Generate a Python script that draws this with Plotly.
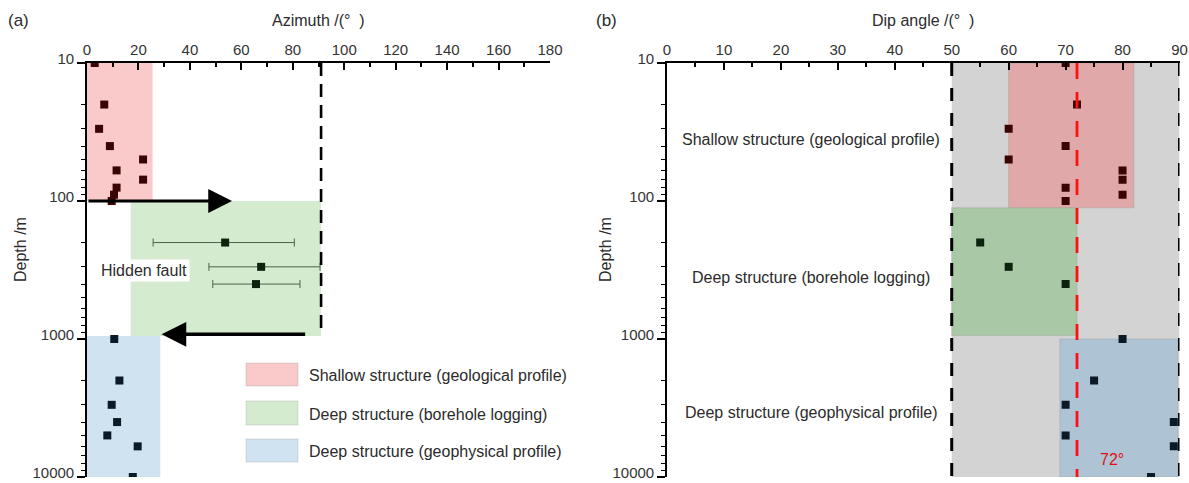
import numpy as np
import plotly.graph_objects as go

# ---------------- data ----------------
# (a) fault azimuth vs depth
shallow_depth = [10, 20, 30, 40, 50, 60, 70, 80, 90, 100]
shallow_azimuth = [3, 6.7, 4.7, 8.9, 21.8, 11.5, 21.8, 11.5, 10.5, 9.6]

borehole_depth = [200, 300, 400]
borehole_azimuth = [53.7, 67.7, 65.7]
borehole_err_minus = [28.0, 20.3, 16.8]
borehole_err_plus = [26.9, 22.9, 17.1]

geophys_depth = [1000, 2000, 3000, 4000, 5000, 6000, 10000]
geophys_azimuth = [10.6, 12.6, 9.6, 11.7, 7.9, 19.7, 17.8]

# (b) fault dip angle vs depth
shallow_dip = [70, 72, 60, 70, 60, 80, 80, 70, 80, 70]
borehole_dip = [55, 60, 70]
geophys_dip = [80, 75, 70, 89, 70, 89, 85]

mean_dip = 72
dip_limits = [50, 90]
azimuth_limit = 91

# value ranges covered by each data source: (x0, x1, depth0, depth1)
azimuth_blocks = {
    "shallow": (0, 25.5, 10, 100),
    "borehole": (17, 91, 100, 950),
    "geophys": (0, 28.5, 950, 10000),
}
dip_blocks = {
    "shallow": (60, 82, 10, 112),
    "borehole": (50, 72, 112, 945),
    "geophys": (69, 89.7, 1000, 10000),
}

legend_labels = [
    "Shallow structure (geological profile)",
    "Deep structure (borehole logging)",
    "Deep structure (geophysical profile)",
]

depth_ticks = [10, 100, 1000, 10000]
depth_minor = [m * 10 ** e for e in range(1, 4) for m in range(2, 10)]

# ---------------- styling ----------------
W, H = 1189, 483
FONT = "Liberation Sans, Arial, sans-serif"
TXT = "#2b2b2b"

fill_a = {"shallow": "#FAC9C9", "borehole": "#D4EBD0", "geophys": "#D0E3F1"}
fill_b = {"shallow": "#E0A8A8", "borehole": "#A9C8A5", "geophys": "#AEC3D4"}
mark_col = {"shallow": "#3A0404", "borehole": "#0E230E", "geophys": "#0A1A26"}

fig = go.Figure()


def pts(x, y, key, xa, ya, **kw):
    fig.add_trace(go.Scatter(
        x=x, y=y, mode="markers", xaxis=xa, yaxis=ya, showlegend=False, cliponaxis=True,
        marker=dict(symbol="square", size=8, color=mark_col[key], line=dict(width=0)),
        **kw))


pts(shallow_azimuth, shallow_depth, "shallow", "x", "y")
pts(borehole_azimuth, borehole_depth, "borehole", "x", "y",
    error_x=dict(type="data", symmetric=False, array=borehole_err_plus,
                 arrayminus=borehole_err_minus, color="#4a634a", thickness=1, width=4))
pts(geophys_azimuth, geophys_depth, "geophys", "x", "y")

pts(shallow_dip, shallow_depth, "shallow", "x2", "y2")
pts(borehole_dip, borehole_depth, "borehole", "x2", "y2")
pts(geophys_dip, geophys_depth, "geophys", "x2", "y2")

shapes = []
# grey band of observed dip angles
shapes.append(dict(type="rect", xref="x2", yref="y2", x0=dip_limits[0], x1=dip_limits[1],
                   y0=10, y1=10000, fillcolor="#D3D3D3", line=dict(width=0), layer="below"))
for key, (x0, x1, d0, d1) in azimuth_blocks.items():
    shapes.append(dict(type="rect", xref="x", yref="y", x0=x0, x1=x1, y0=d0, y1=d1,
                       fillcolor=fill_a[key], line=dict(width=0), layer="below"))
for key, (x0, x1, d0, d1) in dip_blocks.items():
    shapes.append(dict(type="rect", xref="x2", yref="y2", x0=x0, x1=x1, y0=d0, y1=d1,
                       fillcolor=fill_b[key], line=dict(width=1, color="rgba(150,150,150,0.35)"),
                       layer="below"))
# limit lines
shapes.append(dict(type="line", xref="x", yref="y", x0=azimuth_limit, x1=azimuth_limit,
                   y0=10, y1=950, line=dict(color="black", width=2.6, dash="13px,8px")))
for xv in dip_limits:
    shapes.append(dict(type="line", xref="x2", yref="y2", x0=xv, x1=xv, y0=10, y1=10000,
                       line=dict(color="black", width=3, dash="13px,12px")))
shapes.append(dict(type="line", xref="x2", yref="y2", x0=mean_dip, x1=mean_dip, y0=10, y1=10000,
                   line=dict(color="#FF1010", width=2.8, dash="16px,13px")))

# legend swatches
leg_rows = [(363, 386), (401, 425), (439, 462)]
for key, (t, b) in zip(["shallow", "borehole", "geophys"], leg_rows):
    shapes.append(dict(type="rect", xref="paper", yref="paper",
                       x0=246 / W, x1=298 / W, y0=1 - b / H, y1=1 - t / H,
                       fillcolor=fill_a[key], line=dict(width=1, color="rgba(160,160,160,0.35)")))

annotations = []


def label(text, x, y, xref="paper", yref="paper", size=16, color=TXT, xanchor="center", **kw):
    annotations.append(dict(xref=xref, yref=yref, x=x, y=y, text=text, showarrow=False,
                            xanchor=xanchor, yanchor="middle",
                            font=dict(size=size, color=color, family=FONT), **kw))


for text, (t, b) in zip(legend_labels, leg_rows):
    label(text, 307 / W, 1 - ((t + b) / 2 + 1) / H, xanchor="left")

# movement arrows across the hidden fault
annotations.append(dict(xref="x", yref="y", axref="x", ayref="y",
                        x=56.4, y=np.log10(100), ax=0, ay=np.log10(100), text="",
                        showarrow=True, arrowhead=2, arrowsize=1.7, arrowwidth=2.8,
                        arrowcolor="black", standoff=0))
annotations.append(dict(xref="x", yref="y", axref="x", ayref="y",
                        x=29, y=np.log10(925), ax=85.4, ay=np.log10(925), text="",
                        showarrow=True, arrowhead=2, arrowsize=1.45, arrowwidth=3.4,
                        arrowcolor="black", standoff=0))
label("Hidden fault", 22.2, np.log10(321), xref="x", yref="y", bgcolor="white", borderpad=2)

# zone labels in (b)
for text, dv in zip(legend_labels, [36, 356, 3435]):
    label(text, 25.3, np.log10(dv), xref="x2", yref="y2")
label("72°", 78.2, np.log10(7500), xref="x2", yref="y2", color="#E01010")

# panel letters and axis titles
label("(a)", 18 / W, 1 - 20 / H, size=17)
label("(b)", 606 / W, 1 - 20 / H, size=17)
label("Azimuth /(°  )", 0.5, 1 - 20 / H, xref="x domain")
label("Dip angle /(°  )", 0.5, 1 - 20 / H, xref="x2 domain")
label("Depth /m", 20 / W, 1 - 250 / H, textangle=-90)
label("Depth /m", 605 / W, 1 - 250 / H, textangle=-90)

ydom = [1 - 477 / H, 1 - 63 / H]
tickfont = dict(size=15, color="#333333", family=FONT)


def xaxis_cfg(domain, rng, dtick, mdtick, anchor):
    return dict(domain=domain, anchor=anchor, side="top", range=rng, automargin=False,
                tickmode="linear", tick0=0, dtick=dtick, ticks="inside", ticklen=7,
                tickwidth=1.5, tickcolor="black", ticklabeloverflow="allow",
                minor=dict(tickmode="linear", tick0=0, dtick=mdtick, ticks="inside",
                           ticklen=4, tickwidth=1.5, tickcolor="black", showgrid=False),
                showline=True, linecolor="black", linewidth=1.6, showgrid=False,
                zeroline=False, tickfont=tickfont)


def yaxis_cfg(anchor):
    return dict(domain=ydom, anchor=anchor, type="log", range=[4.0002, 0.9999],
                automargin=False, ticklabeloverflow="allow", ticklabelshift=4,
                tickmode="array", tickvals=depth_ticks, ticktext=[str(v) for v in depth_ticks],
                ticks="outside", ticklen=8, tickwidth=1.5, tickcolor="black",
                minor=dict(tickmode="array", tickvals=depth_minor, ticks="outside",
                           ticklen=4, tickwidth=1.2, tickcolor="black", showgrid=False),
                showline=True, linecolor="black", linewidth=1.6, showgrid=False,
                zeroline=False, tickfont=tickfont)


fig.update_layout(
    width=W, height=H, margin=dict(l=0, r=0, t=0, b=0, autoexpand=False),
    paper_bgcolor="white", plot_bgcolor="white",
    font=dict(family=FONT, color=TXT),
    xaxis=xaxis_cfg([87 / W, 550 / W], [0, 180], 20, 10, "y"),
    yaxis=yaxis_cfg("x"),
    xaxis2=xaxis_cfg([667 / W, 1179.5 / W], [0, 90], 10, 5, "y2"),
    yaxis2=yaxis_cfg("x2"),
    shapes=shapes, annotations=annotations, showlegend=False,
)

fig.write_html("out.html")
